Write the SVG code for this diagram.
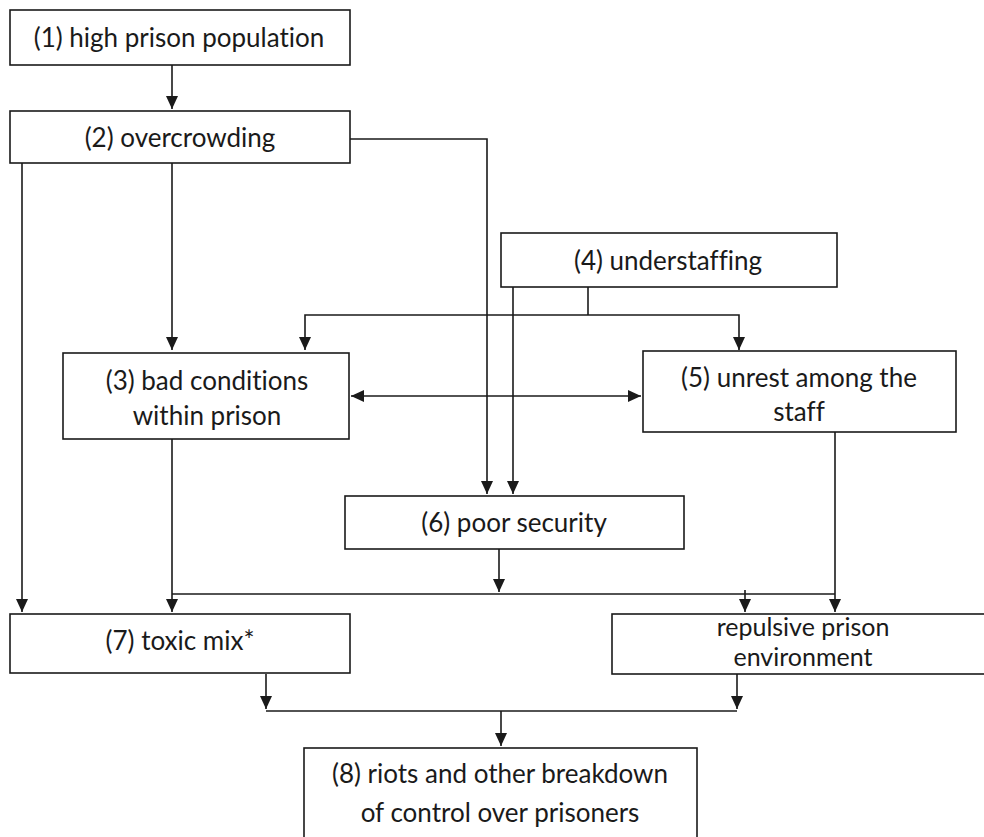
<svg xmlns="http://www.w3.org/2000/svg" width="984" height="837" viewBox="0 0 984 837">
<defs>
<marker id="ah" markerUnits="userSpaceOnUse" markerWidth="13" markerHeight="12" refX="13" refY="6" orient="auto-start-reverse" viewBox="0 0 13 12">
<path d="M0,0 L13,6 L0,12 z" fill="#1a1a1a"/>
</marker>
</defs>
<style>
.box{fill:#fff;stroke:#1a1a1a;stroke-width:1.6}
.t{font-family:Lato,"Liberation Sans",sans-serif;font-size:26px;fill:#1a1a1a;text-anchor:middle;font-variant-ligatures:none}
.s{font-size:25px}
.c{fill:none;stroke:#1a1a1a;stroke-width:1.6}
.a{marker-end:url(#ah)}
</style>
<rect x="0" y="0" width="984" height="837" fill="#fff"/>
<g id="connectors">
<path class="c a" d="M172,65 V109"/>
<path class="c a" d="M350,139 H487 V494"/>
<path class="c a" d="M22,163 V612"/>
<path class="c a" d="M172,153 V350"/>
<path class="c" d="M588,287 V315"/>
<path class="c a" d="M588,315 H305 V350"/>
<path class="c a" d="M588,315 H739 V350"/>
<path class="c a" d="M513,285 V494"/>
<path class="c" d="M351,396 H641" marker-start="url(#ah)" marker-end="url(#ah)"/>
<path class="c a" d="M172,436 V612"/>
<path class="c" d="M172,594 H835"/>
<path class="c a" d="M499,545 V592"/>
<path class="c a" d="M835,432 V612"/>
<path class="c a" d="M745,590 V612"/>
<path class="c a" d="M266,674 V709"/>
<path class="c a" d="M737,674 V709"/>
<path class="c" d="M266,711 H737"/>
<path class="c a" d="M501,711 V746"/>
</g>
<g id="n1"><rect class="box" x="10" y="10" width="340" height="55"/><text class="t" x="179" y="47">(1) high prison population</text></g>
<g id="n2"><rect class="box" x="10" y="111" width="340" height="52"/><text class="t" x="180" y="147">(2) overcrowding</text></g>
<g id="n4"><rect class="box" x="501" y="233" width="336" height="54"/><text class="t" x="668" y="270">(4) understaffing</text></g>
<g id="n3"><rect class="box" x="63" y="353" width="286" height="86"/><text class="t" x="207" y="390">(3) bad conditions</text><text class="t" x="207" y="425">within prison</text></g>
<g id="n5"><rect class="box" x="643" y="351" width="313" height="81"/><text class="t" x="799" y="387">(5) unrest among the</text><text class="t" x="799" y="421">staff</text></g>
<g id="n6"><rect class="box" x="345" y="496" width="339" height="53"/><text class="t" x="514" y="532">(6) poor security</text></g>
<g id="n7"><rect class="box" x="10" y="614" width="340" height="59"/><text class="t" x="180" y="650">(7) toxic mix*</text></g>
<g id="nr"><rect class="box" x="612" y="614" width="380" height="60"/><text class="t s" x="803" y="636">repulsive prison</text><text class="t s" x="803" y="666">environment</text></g>
<g id="n8"><rect class="box" x="304" y="748" width="393" height="100"/><text class="t" x="500" y="783">(8) riots and other breakdown</text><text class="t" x="500" y="822">of control over prisoners</text></g>
</svg>
